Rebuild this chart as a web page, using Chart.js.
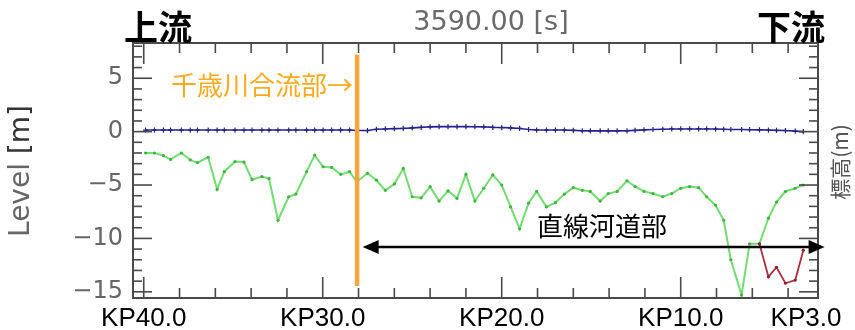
<!DOCTYPE html>
<html>
<head>
<meta charset="utf-8">
<script src="https://cdn.jsdelivr.net/npm/chart.js@4/dist/chart.umd.min.js"></script>
<style>
  html, body { margin: 0; padding: 0; background: #fff; }
  #wrap { width: 855px; height: 330px; position: relative; }
</style>
</head>
<body>
<div id="wrap"><canvas id="c" width="855" height="330"></canvas></div>
<script>
// Distance markers (KP, km from river mouth) of the cross sections
const kp = [39.9,39.4,38.9,38.5,37.9,37.4,37.0,36.4,35.9,35.5,
            34.9,34.4,33.95,33.4,33.0,32.5,31.9,31.5,30.9,30.45,
            29.98,29.5,29.0,28.5,28.1,27.5,27.0,26.5,26.0,25.5,
            25.0,24.5,24.0,23.5,23.0,22.5,22.0,21.5,21.0,20.5,
            20.0,19.5,19.0,18.5,18.05,17.5,17.0,16.5,16.0,15.5,
            15.05,14.5,14.05,13.55,13.0,12.55,12.05,11.55,11.0,10.5,
            10.0,9.5,9.0,8.55,8.05,7.6,7.2,6.6,6.15,5.6,
            5.1,4.65,4.15,3.6,3.15];

// Riverbed elevation (m)
const bedLevel = [-2.0,-2.0,-2.25,-2.6,-2.0,-2.65,-2.9,-2.4,-5.4,-3.75,
                  -2.8,-2.85,-4.5,-4.2,-4.4,-8.3,-6.1,-5.85,-3.75,-2.2,
                  -3.3,-3.35,-4.0,-3.75,-4.7,-3.9,-4.55,-5.5,-4.9,-3.45,
                  -6.1,-6.2,-5.15,-6.5,-5.55,-6.25,-4.0,-6.5,-5.3,-4.05,
                  -5.0,-7.05,-9.1,-6.7,-5.6,-7.05,-6.65,-5.85,-5.25,-5.5,
                  -5.6,-6.5,-5.8,-5.6,-4.6,-5.15,-5.6,-5.8,-6.1,-5.8,
                  -5.3,-5.15,-5.25,-6.1,-6.9,-8.3,-12.0,-15.3,-10.5,-10.5,
                  -8.1,-6.6,-5.6,-5.3,-5.0];

// Water level (m) at t = 3590 s
const waterLevel = [0.15,0.15,0.15,0.15,0.15,0.15,0.15,0.15,0.15,0.15,
                    0.15,0.15,0.15,0.15,0.15,0.15,0.15,0.15,0.15,0.15,
                    0.15,0.15,0.15,0.15,0.1,0.1,0.22,0.25,0.28,0.3,
                    0.35,0.4,0.45,0.47,0.47,0.47,0.47,0.46,0.45,0.4,
                    0.38,0.35,0.3,0.2,0.15,0.15,0.15,0.15,0.12,0.08,
                    0.07,0.07,0.07,0.07,0.08,0.12,0.16,0.2,0.22,0.25,
                    0.25,0.25,0.25,0.25,0.24,0.22,0.2,0.2,0.18,0.16,
                    0.15,0.12,0.1,0.05,0.0];

// Deep channel branch near the mouth
const kpBranch = [5.6,5.1,4.65,4.15,3.6,3.15];
const bedBranch = [-10.5,-13.6,-12.7,-14.2,-13.9,-11.1];

// Chitose River confluence marker and straight reach extent
const confluenceKP = 28.08;
const confluenceSpan = [7.2, -14.45];
const straightReachKP = [27.77, 1.96];
const straightReachLevel = -10.8;

// Axis ticks and labels
const xTickKP = [40,38,36,34,32,30,28,26,24,22,20,18,16,14,12,10,8,6,4];
const xMajorKP = [40,30,20,10];
const xLabelKP = [40,30,20,10,3];
const xLabelText = ['KP40.0','KP30.0','KP20.0','KP10.0','KP3.0'];
const yMajor = [5,0,-5,-10,-15];
const yMinor = [8,7,6,5,4,3,2,1,0,-1,-2,-3,-4,-5,-6,-7,-8,-9,-10,-11,-12,-13,-14,-15];
const timeLabel = '3590.00 [s]';

const pts = (xs, ys) => xs.map((v, i) => ({ x: v, y: ys[i] }));

const frameAndTicks = {
  id: 'frameAndTicks',
  afterDatasetsDraw(chart) {
    const { ctx, chartArea: a, scales: { x, y } } = chart;
    ctx.save();
    ctx.strokeStyle = '#4a4a4a';
    ctx.lineWidth = 1.6;
    const seg = (x1, y1, x2, y2) => { ctx.beginPath(); ctx.moveTo(x1, y1); ctx.lineTo(x2, y2); ctx.stroke(); };
    xTickKP.forEach(v => {
      const px = x.getPixelForValue(v);
      const len = xMajorKP.includes(v) ? 21 : 10;
      seg(px, a.bottom, px, a.bottom - len);
      seg(px, a.top, px, a.top + len);
    });
    yMinor.forEach(v => {
      const py = y.getPixelForValue(v);
      const len = yMajor.includes(v) ? 19 : 9;
      seg(a.left, py, a.left + len, py);
      seg(a.right, py, a.right - len, py);
    });
    ctx.lineWidth = 2;
    ctx.strokeRect(a.left, a.top, a.right - a.left, a.bottom - a.top);

    // straight reach double arrow
    const ay = y.getPixelForValue(straightReachLevel);
    const x1 = x.getPixelForValue(straightReachKP[0]);
    const x2 = x.getPixelForValue(straightReachKP[1]);
    ctx.strokeStyle = '#000';
    ctx.fillStyle = '#000';
    ctx.lineWidth = 2.5;
    seg(x1 + 12, ay, x2 - 12, ay);
    ctx.beginPath(); ctx.moveTo(x1, ay); ctx.lineTo(x1 + 16, ay - 7); ctx.lineTo(x1 + 16, ay + 7); ctx.closePath(); ctx.fill();
    ctx.beginPath(); ctx.moveTo(x2, ay); ctx.lineTo(x2 - 16, ay - 7); ctx.lineTo(x2 - 16, ay + 7); ctx.closePath(); ctx.fill();
    ctx.restore();
  },
  afterDraw(chart) {
    const { ctx } = chart;
    ctx.save();
    ctx.textBaseline = 'middle';
    // time stamp
    ctx.font = '27px "DejaVu Sans"';
    ctx.fillStyle = '#6a6a6a';
    ctx.textAlign = 'center';
    ctx.fillText(timeLabel, 491, 23);
    // upstream / downstream
    ctx.font = 'bold 34px "Noto Sans CJK JP"';
    ctx.fillStyle = '#000';
    ctx.textAlign = 'left';
    ctx.fillText('上流', 124, 27);
    ctx.fillText('下流', 757, 27);
    // confluence label
    ctx.font = '26px "Noto Sans CJK JP"';
    ctx.fillStyle = '#FBAA1E';
    ctx.fillText('千歳川合流部→', 171, 85);
    // straight reach label
    ctx.fillStyle = '#000';
    ctx.fillText('直線河道部', 537, 226);
    // left axis title
    ctx.save();
    ctx.translate(22, 171);
    ctx.rotate(-Math.PI / 2);
    ctx.font = '28px "DejaVu Sans"';
    ctx.textAlign = 'left';
    const w1 = ctx.measureText('Level ').width;
    const w2 = ctx.measureText('[m]').width;
    const start = -(w1 + w2) / 2;
    ctx.fillStyle = '#666';
    ctx.fillText('Level ', start, 0);
    ctx.fillStyle = '#333';
    ctx.fillText('[m]', start + w1, 0);
    ctx.restore();
    // right axis title
    ctx.save();
    ctx.translate(840, 162);
    ctx.rotate(-Math.PI / 2);
    ctx.font = '21px "Noto Sans CJK JP"';
    ctx.fillStyle = '#555';
    ctx.textAlign = 'center';
    ctx.fillText('標高(m)', 0, 0);
    ctx.restore();
    ctx.restore();
  }
};

new Chart(document.getElementById('c'), {
  type: 'line',
  data: {
    datasets: [
      {
        label: '千歳川合流部',
        data: [{ x: confluenceKP, y: confluenceSpan[0] }, { x: confluenceKP, y: confluenceSpan[1] }],
        borderColor: '#F7A43A',
        borderWidth: 4.5,
        borderCapStyle: 'butt',
        pointRadius: 0
      },
      {
        label: '水位',
        data: pts(kp, waterLevel),
        borderColor: '#24248c',
        borderWidth: 1.6,
        pointStyle: 'cross',
        pointRadius: 2.6,
        pointBorderWidth: 1.2,
        pointBorderColor: '#24248c',
        tension: 0
      },
      {
        label: '河床高(澪筋)',
        data: pts(kpBranch, bedBranch),
        borderColor: '#a8303e',
        borderWidth: 1.8,
        pointRadius: 1.6,
        pointBackgroundColor: '#8a2030',
        pointBorderWidth: 0,
        tension: 0
      },
      {
        label: '河床高',
        data: pts(kp, bedLevel),
        borderColor: '#72dc72',
        borderWidth: 2,
        pointRadius: 1.6,
        pointBackgroundColor: '#3fb43f',
        pointBorderWidth: 0,
        tension: 0
      }
    ]
  },
  options: {
    responsive: false,
    animation: false,
    devicePixelRatio: 1,
    layout: { padding: { left: 0, right: 37, top: 43, bottom: 0 } },
    plugins: { legend: { display: false }, tooltip: { enabled: false } },
    scales: {
      x: {
        type: 'linear',
        reverse: true,
        min: 2.33,
        max: 40.6,
        afterBuildTicks: s => { s.ticks = xLabelKP.map(v => ({ value: v })); },
        afterFit: s => { s.height = 32; },
        grid: { display: false, drawTicks: false },
        border: { display: false },
        ticks: {
          autoSkip: false,
          maxRotation: 0,
          padding: 5,
          color: '#000',
          font: { family: 'Liberation Sans', size: 26 },
          callback: v => xLabelText[xLabelKP.indexOf(v)]
        }
      },
      y: {
        min: -15.58,
        max: 8.3,
        afterBuildTicks: s => { s.ticks = yMajor.map(v => ({ value: v })); },
        afterFit: s => { s.width = 133; },
        grid: { display: false, drawTicks: false },
        border: { display: false },
        ticks: {
          padding: 10,
          color: '#666',
          font: { family: 'DejaVu Sans', size: 24 },
          callback: v => (v < 0 ? '\u2212' + Math.abs(v) : String(v))
        }
      }
    }
  },
  plugins: [frameAndTicks]
});
</script>
</body>
</html>
